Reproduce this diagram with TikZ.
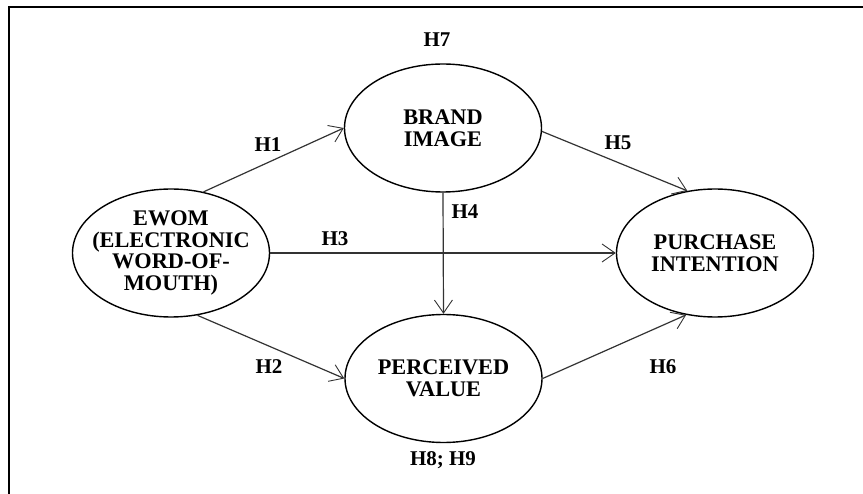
\documentclass[tikz,border=0pt]{standalone}
\usepackage{fontspec}
\setmainfont{Liberation Serif}
\usetikzlibrary{shapes.geometric,arrows.meta}
\begin{document}
\begin{tikzpicture}[x=1pt,y=-1pt,
  construct/.style={ellipse,draw=black,line width=1.4pt,minimum width=197pt,minimum height=128pt,inner xsep=-25pt,inner ysep=0pt,align=center,
    font=\bfseries\fontsize{22.3}{21.8}\selectfont},
  hyp/.style={font=\bfseries\fontsize{21}{21}\selectfont,inner sep=0pt},
  link/.style={draw=black!80,line width=1.2pt,-{Straight Barb[length=13pt,width=18pt,line width=0.9pt]}}]
\useasboundingbox (0,0) rectangle (863,494);
\fill[white] (0,0) rectangle (863,494);
\draw[line width=2pt] (9,494) -- (9,7) -- (863,7);
\node[construct] (ewom) at (171,253) {EWOM\\(ELECTRONIC\\WORD-OF-\\MOUTH)};
\node[construct] (bi) at (443,128) {BRAND\\IMAGE};
\node[construct] (pv) at (443.5,378.5) {PERCEIVED\\VALUE};
\node[construct] (pi) at (715,253) {PURCHASE\\INTENTION};
\draw[link] (ewom.62) -- (bi.west);
\draw[link] (ewom.-67) -- (pv.west);
\draw[link] (ewom.east) -- (pi.west);
\draw[link] (bi.south) -- (pv.north);
\draw[link] (bi.-2) -- (pi.114);
\draw[link] (pv.east) -- (pi.245);
\node[hyp] (h7) at (437,40) {H7};
\node[hyp] (h1) at (268,145) {H1};
\node[hyp] (h5) at (618,143) {H5};
\node[hyp] (h4) at (465,212) {H4};
\node[hyp] (h3) at (335,239) {H3};
\node[hyp] (h2) at (269,367) {H2};
\node[hyp] (h6) at (663,367) {H6};
\node[hyp] (h89) at (443,460) {H8; H9};
\end{tikzpicture}
\end{document}
